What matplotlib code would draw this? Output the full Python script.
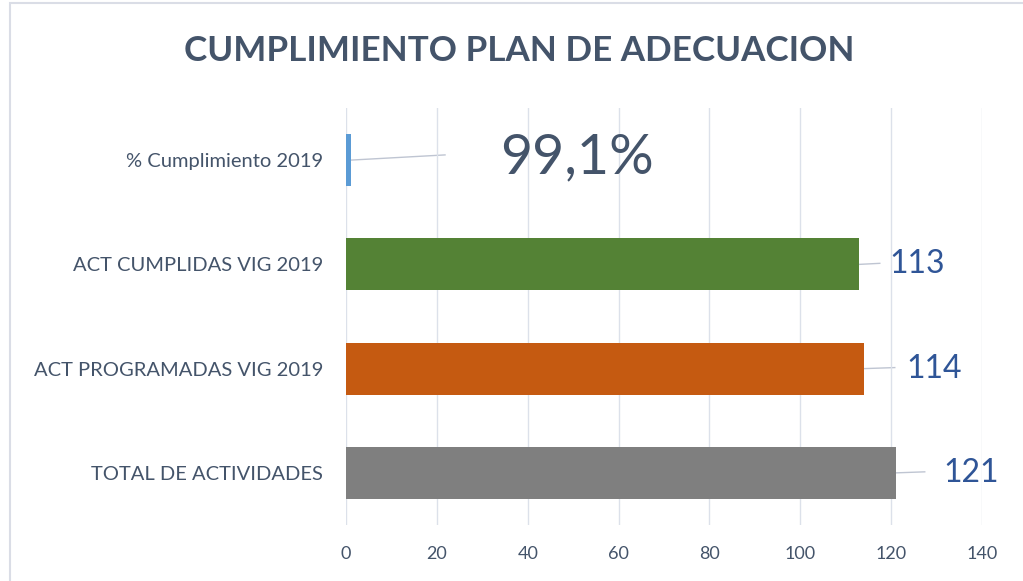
import matplotlib.pyplot as plt
from matplotlib.patches import Rectangle

# datos
categorias = ['TOTAL DE ACTIVIDADES', 'ACT PROGRAMADAS VIG 2019',
              'ACT CUMPLIDAS VIG 2019', '% Cumplimiento 2019']
valores = [121, 114, 113, 0.991]
etiquetas = ['121', '114', '113', '99,1%']
colores = ['#7F7F7F', '#C55A11', '#548235', '#5B9BD5']

# posicion de las etiquetas (x del texto, x final de la linea guia)
pos_texto = [131.6, 123.3, 119.7, 34.0]
fin_linea = [127.4, 120.8, 117.5, 21.8]
tam_texto = [23, 23, 23, 40]
col_texto = ['#2F5597', '#2F5597', '#2F5597', '#44546A']

plt.rcParams['font.family'] = ['Lato', 'DejaVu Sans']

fig = plt.figure(figsize=(10.23, 5.81), dpi=100)
ax = fig.add_axes([346 / 1023, 1 - 525 / 581, 636 / 1023, 417 / 581])

y = range(len(categorias))
ax.barh(y, valores, height=0.5, color=colores, zorder=2)

for i in y:
    ax.plot([valores[i], fin_linea[i]], [i, i + (0.05 if i == 3 else 0.01)],
            color='#BFC5D2', lw=1, zorder=1)
    ax.text(pos_texto[i], i + (0.02 if i == 3 else 0), etiquetas[i],
            fontsize=tam_texto[i], color=col_texto[i], va='center', ha='left')

ax.set_xlim(0, 140)
ax.set_ylim(-0.5, 3.5)
ax.set_xticks(range(0, 141, 20))
ax.set_yticks(list(y))
ax.set_yticklabels(categorias, fontsize=14.5, color='#44546A')
ax.tick_params(axis='x', labelsize=13, colors='#44546A', length=0, pad=15)
ax.tick_params(axis='y', length=0, pad=16.5)
ax.grid(axis='x', color='#DCE1EA', lw=1, zorder=0)
for s in ax.spines.values():
    s.set_visible(False)

fig.text(0.508, 1 - 51 / 581, 'CUMPLIMIENTO PLAN DE ADECUACION', ha='center',
         va='center', fontsize=25.2, fontweight='bold', color='#44546A')

# borde del grafico
fig.patches.append(Rectangle((10 / 1023, -0.1), 1.1, 1 - 3 / 581 + 0.1,
                             transform=fig.transFigure, fill=False,
                             edgecolor='#DADDE6', lw=1.5))

fig.savefig('out.png', dpi=100)
